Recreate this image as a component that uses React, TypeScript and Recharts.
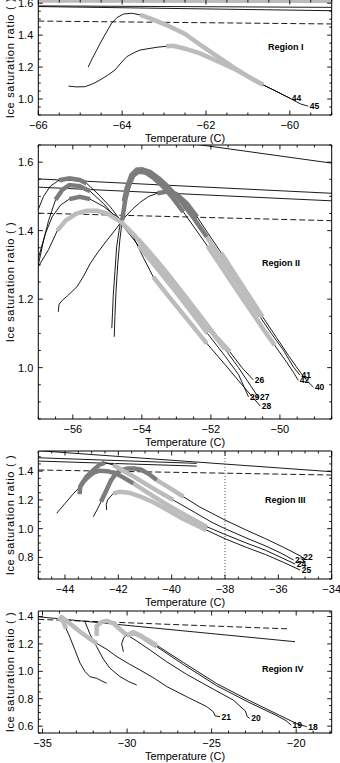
import React from 'react';
import { LineChart, Line, XAxis, YAxis, ReferenceArea } from 'recharts';

type P = [number, number];

// ---------------- Panel I ----------------
const P1_X_TICKS = [-66, -64, -62, -60];
const P1_Y_TICKS = [1.0, 1.2, 1.4, 1.6];
const P1_TOP_A: P[] = [[-66, 1.612], [-59, 1.61]];
const P1_TOP_B: P[] = [[-66, 1.583], [-59, 1.574]];
const P1_TOP_C: P[] = [[-66, 1.579], [-59, 1.553]];
const P1_DASH: P[] = [[-66, 1.488], [-59, 1.47]];
const C44: P[] = [[-64.81, 1.2], [-64.72, 1.25], [-64.6, 1.31], [-64.48, 1.37], [-64.37, 1.42], [-64.25, 1.475], [-64.12, 1.51], [-63.97, 1.532], [-63.77, 1.537], [-63.57, 1.527], [-63.3, 1.502], [-62.94, 1.463], [-62.5, 1.408], [-62.14, 1.34], [-61.75, 1.27], [-61.35, 1.2], [-61.0, 1.142], [-60.63, 1.088], [-60.3, 1.045], [-59.99, 1.004]];
const C45: P[] = [[-65.28, 1.081], [-65.1, 1.076], [-64.89, 1.077], [-64.7, 1.095], [-64.53, 1.119], [-64.35, 1.148], [-64.17, 1.182], [-64.03, 1.225], [-63.89, 1.265], [-63.72, 1.29], [-63.57, 1.307], [-63.17, 1.324], [-62.95, 1.33], [-62.78, 1.333], [-62.5, 1.315], [-62.14, 1.286], [-61.75, 1.24], [-61.35, 1.192], [-61.0, 1.142], [-60.71, 1.098], [-60.35, 1.052], [-60.0, 1.005], [-59.75, 0.97], [-59.56, 0.955]];

// ---------------- Panel II ----------------
const P2_X_TICKS = [-56, -54, -52, -50];
const P2_Y_TICKS = [1.0, 1.2, 1.4, 1.6];
const P2_TOP_A: P[] = [[-57, 1.716], [-48.5, 1.597]];
const P2_TOP_B: P[] = [[-57, 1.551], [-48.5, 1.509]];
const P2_TOP_C: P[] = [[-57, 1.527], [-48.5, 1.487]];
const P2_DASH: P[] = [[-57, 1.451], [-48.5, 1.429]];
const C26: P[] = [[-57, 1.295], [-56.7, 1.345], [-56.45, 1.4], [-56.2, 1.43], [-55.9, 1.45], [-55.6, 1.458], [-55.3, 1.458], [-55.0, 1.45], [-54.6, 1.425], [-54.25, 1.39], [-53.8, 1.34], [-53.3, 1.28], [-52.8, 1.215], [-52.3, 1.15], [-51.85, 1.09], [-51.45, 1.046], [-51.1, 1.0], [-50.77, 0.964]];
const C27: P[] = [[-57, 1.319], [-56.8, 1.39], [-56.6, 1.44], [-56.35, 1.475], [-56.1, 1.492], [-55.8, 1.499], [-55.5, 1.492], [-55.1, 1.47], [-54.6, 1.43], [-54.1, 1.375], [-53.6, 1.313], [-53.1, 1.25], [-52.6, 1.185], [-52.1, 1.12], [-51.6, 1.055], [-51.2, 1.0], [-50.9, 0.955], [-50.62, 0.913]];
const C28: P[] = [[-57, 1.462], [-56.85, 1.5], [-56.65, 1.53], [-56.4, 1.547], [-56.1, 1.553], [-55.8, 1.548], [-55.6, 1.538], [-55.3, 1.51], [-54.92, 1.47], [-54.6, 1.428], [-54.25, 1.382], [-53.95, 1.32], [-53.67, 1.265], [-53.2, 1.205], [-52.7, 1.143], [-52.12, 1.071], [-51.6, 1.01], [-51.1, 0.95], [-50.8, 0.915], [-50.57, 0.888]];
const C29: P[] = [[-57, 1.3], [-56.85, 1.37], [-56.7, 1.43], [-56.5, 1.49], [-56.3, 1.52], [-56.1, 1.533], [-55.8, 1.53], [-55.5, 1.515], [-55.1, 1.478], [-54.6, 1.42], [-54.1, 1.357], [-53.6, 1.295], [-53.1, 1.232], [-52.6, 1.167], [-52.1, 1.1], [-51.6, 1.035], [-51.2, 0.98], [-50.91, 0.915]];
const C40: P[] = [[-56.42, 1.163], [-56.4, 1.185], [-56.3, 1.197], [-56.15, 1.21], [-55.88, 1.236], [-55.7, 1.265], [-55.49, 1.305], [-55.25, 1.34], [-55.0, 1.373], [-54.75, 1.405], [-54.52, 1.436], [-54.25, 1.465], [-54.03, 1.484], [-53.8, 1.5], [-53.55, 1.509], [-53.26, 1.514], [-53.0, 1.507], [-52.7, 1.48], [-52.4, 1.44], [-52.1, 1.395], [-51.7, 1.335], [-51.3, 1.272], [-50.9, 1.21], [-50.5, 1.148], [-50.1, 1.088], [-49.75, 1.035], [-49.4, 0.985], [-49.2, 0.96], [-49.03, 0.943]];
const C41: P[] = [[-54.87, 1.115], [-54.85, 1.16], [-54.83, 1.207], [-54.78, 1.28], [-54.73, 1.353], [-54.66, 1.4], [-54.59, 1.441], [-54.52, 1.485], [-54.44, 1.524], [-54.3, 1.563], [-54.15, 1.578], [-54.0, 1.579], [-53.77, 1.572], [-53.5, 1.552], [-53.29, 1.533], [-53.05, 1.507], [-52.81, 1.479], [-52.5, 1.437], [-52.12, 1.382], [-51.75, 1.325], [-51.35, 1.265], [-50.95, 1.205], [-50.58, 1.149], [-50.25, 1.1], [-49.9, 1.051], [-49.61, 1.002], [-49.42, 0.978]];
const C42: P[] = [[-54.8, 1.09], [-54.78, 1.15], [-54.75, 1.22], [-54.7, 1.3], [-54.64, 1.37], [-54.57, 1.43], [-54.48, 1.49], [-54.38, 1.53], [-54.25, 1.56], [-54.1, 1.572], [-53.9, 1.57], [-53.65, 1.553], [-53.4, 1.53], [-53.1, 1.495], [-52.8, 1.455], [-52.45, 1.405], [-52.1, 1.355], [-51.7, 1.295], [-51.3, 1.235], [-50.9, 1.175], [-50.5, 1.115], [-50.15, 1.065], [-49.8, 1.015], [-49.6, 0.985], [-49.47, 0.963]];

// ---------------- Panel III ----------------
const P3_X_TICKS = [-44, -42, -40, -38, -36, -34];
const P3_Y_TICKS = [0.8, 1.0, 1.2, 1.4];
const P3_TOP_A: P[] = [[-45, 1.542], [-34, 1.396]];
const P3_TOP_B: P[] = [[-45, 1.493], [-39.06, 1.454]];
const P3_TOP_C: P[] = [[-45, 1.47], [-39.06, 1.435]];
const P3_DASH: P[] = [[-45, 1.408], [-34, 1.373]];
const P3_DOT: P[] = [[-38, 0.65], [-38, 1.54]];
const C22: P[] = [[-42.94, 1.083], [-42.8, 1.13], [-42.65, 1.187], [-42.45, 1.265], [-42.27, 1.338], [-42.1, 1.38], [-41.9, 1.408], [-41.64, 1.419], [-41.4, 1.418], [-41.14, 1.41], [-40.85, 1.38], [-40.56, 1.338], [-40.05, 1.28], [-39.56, 1.222], [-38.94, 1.15], [-38.0, 1.06], [-37.2, 0.99], [-36.48, 0.93], [-35.8, 0.87], [-35.12, 0.805]];
const C23: P[] = [[-44.31, 1.107], [-44.0, 1.175], [-43.7, 1.24], [-43.43, 1.292], [-43.2, 1.36], [-42.93, 1.408], [-42.7, 1.445], [-42.5, 1.459], [-42.19, 1.443], [-41.5, 1.37], [-40.7, 1.28], [-39.94, 1.199], [-39.2, 1.12], [-38.5, 1.045], [-38.0, 1.0], [-37.2, 0.935], [-36.48, 0.88], [-35.9, 0.83], [-35.43, 0.782]];
const C24: P[] = [[-43.45, 1.24], [-43.43, 1.29], [-43.31, 1.327], [-43.1, 1.365], [-42.9, 1.392], [-42.69, 1.403], [-42.4, 1.4], [-42.1, 1.385], [-41.8, 1.355], [-41.44, 1.315], [-40.9, 1.25], [-40.3, 1.18], [-39.5, 1.095], [-38.69, 1.014], [-38.0, 0.96], [-37.2, 0.9], [-36.48, 0.85], [-35.9, 0.8], [-35.37, 0.754]];
const C25: P[] = [[-42.44, 1.13], [-42.45, 1.17], [-42.4, 1.2], [-42.19, 1.245], [-41.94, 1.257], [-41.6, 1.25], [-41.2, 1.225], [-40.7, 1.185], [-40.2, 1.135], [-39.6, 1.07], [-38.69, 0.99], [-38.0, 0.93], [-37.2, 0.87], [-36.48, 0.82], [-35.8, 0.765], [-35.18, 0.712]];

// ---------------- Panel IV ----------------
const P4_X_TICKS = [-35, -30, -25, -20];
const P4_Y_TICKS = [0.6, 0.8, 1.0, 1.2, 1.4];
const P4_TOP_A: P[] = [[-35.25, 1.398], [-20.07, 1.216]];
const P4_DASH: P[] = [[-35.25, 1.379], [-20.37, 1.309]];
const CA: P[] = [[-33.87, 1.394], [-33.77, 1.362], [-33.6, 1.31], [-33.37, 1.245], [-33.1, 1.16], [-32.78, 1.06], [-32.5, 1.0], [-32.19, 0.96], [-31.8, 0.949], [-31.5, 0.93], [-31.21, 0.913]];
const CB: P[] = [[-32.49, 1.362], [-32.19, 1.27], [-31.8, 1.18], [-31.41, 1.09], [-31.01, 1.022], [-30.42, 0.961], [-29.9, 0.925], [-29.43, 0.9]];
const C21: P[] = [[-34.06, 1.37], [-33.87, 1.394], [-33.6, 1.37], [-33.2, 1.33], [-32.8, 1.29], [-32.3, 1.245], [-31.8, 1.204], [-31.2, 1.16], [-30.6, 1.107], [-29.9, 1.055], [-29.24, 1.01], [-28.4, 0.95], [-27.66, 0.889], [-26.5, 0.816], [-25.3, 0.743], [-24.9, 0.705], [-24.8, 0.675], [-24.5, 0.669]];
const C20: P[] = [[-31.8, 1.26], [-31.8, 1.33], [-31.5, 1.36], [-31.21, 1.369], [-30.8, 1.35], [-30.4, 1.305], [-30.02, 1.265], [-29.6, 1.235], [-28.65, 1.156], [-27.66, 1.07], [-26.48, 0.978], [-24.9, 0.87], [-23.72, 0.79], [-23.0, 0.71], [-22.9, 0.67], [-22.75, 0.657]];
const C19: P[] = [[-30.22, 1.143], [-30.32, 1.2], [-30.2, 1.245], [-30.02, 1.262], [-29.63, 1.285], [-29.2, 1.26], [-28.7, 1.215], [-28.25, 1.18], [-26.68, 1.05], [-24.7, 0.895], [-22.74, 0.77], [-21.2, 0.68], [-20.6, 0.64], [-20.3, 0.608]];
const C18: P[] = [[-29.9, 1.27], [-29.5, 1.275], [-29.0, 1.245], [-28.25, 1.19], [-26.68, 1.065], [-24.7, 0.91], [-22.74, 0.785], [-21.0, 0.68], [-20.0, 0.62], [-19.38, 0.596]];

// ---------------- layout / style ----------------
const LEFT = 38.3;
const RIGHT = 331.7;
const LIGHT = '#bcbcbc';
const DARK = '#7c7c7c';
const FONT = '"Liberation Sans", Arial, sans-serif';

type Straight = { pts: P[]; dash?: string; color?: string; width?: number };
type Curve = { pts: P[]; label?: string; light?: [number, number][]; dark?: [number, number][] };
type Cfg = {
  top: number; bottom: number; xDomain: [number, number]; yDomain: [number, number];
  xMajor: number[]; xMinorStep: number; yMajor: number[]; straight: Straight[]; curves: Curve[];
  region: string; regionX: number; regionY: number;
};

const range = (a: number, b: number, s: number) => {
  const out: number[] = [];
  const n = Math.floor((b - a) / s + 1e-6);
  for (let i = 0; i <= n; i++) out.push(+(a + i * s).toFixed(4));
  return out;
};

const toData = (pts: P[]) => pts.map(([t, s]) => ({ t, s }));
const fmtX = (v: number) => (v < 0 ? '\u2212' + Math.abs(v) : String(v));
const isIn = (arr: number[], v: number) => arr.some((m) => Math.abs(m - v) < 1e-6);

const PANELS: Cfg[] = [
  {
    top: 0, bottom: 115, xDomain: [-66, -59], yDomain: [0.9, 1.62], xMajor: P1_X_TICKS, xMinorStep: 0.5, yMajor: P1_Y_TICKS,
    straight: [{ pts: P1_TOP_A, color: LIGHT, width: 3 }, { pts: P1_TOP_B }, { pts: P1_TOP_C }, { pts: P1_DASH, dash: '6 3' }],
    curves: [
      { pts: C44, label: '44', light: [[9, 17]] },
      { pts: C45, label: '45', light: [[12, 19]] },
    ],
    region: 'Region I', regionX: 268, regionY: 47,
  },
  {
    top: 145, bottom: 419, xDomain: [-57, -48.5], yDomain: [0.85, 1.65], xMajor: P2_X_TICKS, xMinorStep: 0.5, yMajor: P2_Y_TICKS,
    straight: [{ pts: P2_TOP_A }, { pts: P2_TOP_B }, { pts: P2_TOP_C }, { pts: P2_DASH, dash: '6 3' }],
    curves: [
      { pts: C26, label: '26', light: [[2, 15]] },
      { pts: C27, label: '27', dark: [[4, 6]], light: [[9, 14]] },
      { pts: C28, label: '28', dark: [[3, 6]], light: [[12, 15]] },
      { pts: C29, label: '29', dark: [[3, 7]], light: [[10, 14]] },
      { pts: C40, label: '40', dark: [[14, 18]], light: [[20, 23]] },
      { pts: C41, label: '41', dark: [[7, 18]], light: [[18, 22]] },
      { pts: C42, label: '42', dark: [[5, 14]], light: [[16, 21]] },
    ],
    region: 'Region II', regionX: 262, regionY: 263,
  },
  {
    top: 451, bottom: 579, xDomain: [-45, -34], yDomain: [0.65, 1.54], xMajor: P3_X_TICKS, xMinorStep: 0.5, yMajor: P3_Y_TICKS,
    straight: [{ pts: P3_TOP_A }, { pts: P3_TOP_B }, { pts: P3_TOP_C }, { pts: P3_DASH, dash: '6 3' }, { pts: P3_DOT, dash: '1 2', color: '#444' }],
    curves: [
      { pts: C22, label: '22', dark: [[2, 11]], light: [[11, 13]] },
      { pts: C23, label: '23', dark: [[3, 7]], light: [[8, 11]] },
      { pts: C24, label: '24', dark: [[0, 9]], light: [[9, 13]] },
      { pts: C25, label: '25', light: [[3, 10]] },
    ],
    region: 'Region III', regionX: 265, regionY: 500,
  },
  {
    top: 611, bottom: 733, xDomain: [-35.25, -17.9], yDomain: [0.55, 1.44], xMajor: P4_X_TICKS, xMinorStep: 1, yMajor: P4_Y_TICKS,
    straight: [{ pts: P4_TOP_A }, { pts: P4_DASH, dash: '6 3' }],
    curves: [
      { pts: CA, light: [[0, 2]] },
      { pts: CB },
      { pts: C21, label: '21', light: [[0, 6]] },
      { pts: C20, label: '20', light: [[0, 6]] },
      { pts: C19, label: '19', light: [[3, 7]] },
      { pts: C18, label: '18', light: [[0, 3]] },
    ],
    region: 'Region IV', regionX: 262, regionY: 669,
  },
];

function makeXTick(major: number[], plotH: number) {
  return (props: any) => {
    const { x, y, payload } = props;
    const v = payload.value as number;
    const mj = isIn(major, v);
    const len = mj ? 4.5 : 2.5;
    return (
      <g>
        <line x1={x} x2={x} y1={y} y2={y - len} stroke="#000" strokeWidth={0.9} />
        <line x1={x} x2={x} y1={y - plotH} y2={y - plotH + len} stroke="#000" strokeWidth={0.9} />
        {mj ? (
          <text x={x} y={y + 14} textAnchor="middle" fontSize={11} fill="#000" fontFamily={FONT}>{fmtX(v)}</text>
        ) : null}
      </g>
    );
  };
}

function makeYTick(major: number[], plotW: number) {
  return (props: any) => {
    const { x, y, payload } = props;
    const v = payload.value as number;
    const mj = isIn(major, v);
    const len = mj ? 4.5 : 2.5;
    return (
      <g>
        <line x1={x} x2={x + len} y1={y} y2={y} stroke="#000" strokeWidth={0.9} />
        <line x1={x + plotW} x2={x + plotW - len} y1={y} y2={y} stroke="#000" strokeWidth={0.9} />
        {mj ? (
          <text x={x - 5} y={y + 4} textAnchor="end" fontSize={11} fill="#000" fontFamily={FONT}>{v.toFixed(1)}</text>
        ) : null}
      </g>
    );
  };
}

const endLabel = (text: string, n: number) => (props: any) => {
  const x = props.x ?? props.viewBox?.x;
  const y = props.y ?? props.viewBox?.y;
  if (props.index !== n - 1) return <g key={`e${props.index}`} />;
  return (
    <text key={`e${props.index}`} x={x + 1.5} y={y + 3} fontSize={8.5} fontWeight="bold" fill="#000" fontFamily={FONT}>{text}</text>
  );
};

function Panel({ cfg }: { cfg: Cfg }) {
  const plotH = cfg.bottom - cfg.top;
  const plotW = RIGHT - LEFT;
  const mt = cfg.top === 0 ? 0 : 4;
  const mb = 20;
  const H = mt + plotH + mb;
  const xTicks = range(Math.ceil(cfg.xDomain[0] / cfg.xMinorStep - 1e-6) * cfg.xMinorStep, cfg.xDomain[1], cfg.xMinorStep);
  const yTicks = range(Math.ceil(cfg.yDomain[0] / 0.05 - 1e-6) * 0.05, cfg.yDomain[1], 0.05);
  const lines: React.ReactNode[] = [];
  cfg.straight.forEach((s, i) => {
    lines.push(
      <Line key={`s${i}`} data={toData(s.pts)} dataKey="s" type="linear" stroke={s.color || '#000'} strokeWidth={s.width || 0.9}
        strokeDasharray={s.dash} dot={false} activeDot={false} isAnimationActive={false} />
    );
  });
  cfg.curves.forEach((c, i) => {
    lines.push(
      <Line key={`c${i}`} data={toData(c.pts)} dataKey="s" type="linear" stroke="#000" strokeWidth={0.9}
        dot={false} activeDot={false} isAnimationActive={false}
        label={c.label ? endLabel(c.label, c.pts.length) : false} />
    );
  });
  cfg.curves.forEach((c, i) => {
    (c.light || []).forEach(([a, b], j) => {
      lines.push(
        <Line key={`l${i}-${j}`} data={toData(c.pts.slice(a, b + 1))} dataKey="s" type="linear" stroke={LIGHT} strokeWidth={4.5}
          dot={false} activeDot={false} isAnimationActive={false} />
      );
    });
    (c.dark || []).forEach(([a, b], j) => {
      lines.push(
        <Line key={`d${i}-${j}`} data={toData(c.pts.slice(a, b + 1))} dataKey="s" type="linear" stroke={DARK} strokeWidth={4.5}
          dot={false} activeDot={false} isAnimationActive={false} />
      );
    });
  });

  return (
    <>
      <div style={{ position: 'absolute', left: 0, top: cfg.top - mt }}>
        <LineChart width={340} height={H} margin={{ top: mt, right: 340 - RIGHT, bottom: mb - 1, left: LEFT - 1 }}>
          <XAxis type="number" dataKey="t" domain={cfg.xDomain} allowDataOverflow ticks={xTicks} interval={0}
            tickSize={0} tickMargin={0} height={1} axisLine={false} tickLine={false} tick={makeXTick(cfg.xMajor, plotH)} />
          <YAxis type="number" dataKey="s" domain={cfg.yDomain} allowDataOverflow ticks={yTicks} interval={0}
            tickSize={0} tickMargin={0} width={1} axisLine={false} tickLine={false} tick={makeYTick(cfg.yMajor, plotW)} />
          <ReferenceArea x1={cfg.xDomain[0]} x2={cfg.xDomain[1]} y1={cfg.yDomain[0]} y2={cfg.yDomain[1]}
            fill="none" fillOpacity={0} stroke="#000" strokeWidth={1} />
          {lines}
        </LineChart>
      </div>
      <div style={{
        position: 'absolute', left: 10, top: (cfg.top + cfg.bottom) / 2, transform: 'translate(-50%, -50%) rotate(-90deg)',
        whiteSpace: 'nowrap', fontSize: 11, letterSpacing: 0.7, fontFamily: FONT, lineHeight: '12px', color: '#000',
      }}>Ice saturation ratio ( )</div>
      <div style={{
        position: 'absolute', left: (LEFT + RIGHT) / 2, top: cfg.bottom + 23, transform: 'translate(-50%, -50%)',
        whiteSpace: 'nowrap', fontSize: 11, fontFamily: FONT, lineHeight: '12px', color: '#000',
      }}>Temperature (C)</div>
      <div style={{
        position: 'absolute', left: cfg.regionX, top: cfg.regionY, transform: 'translate(0, -50%)',
        whiteSpace: 'nowrap', fontSize: 9, fontWeight: 'bold', fontFamily: FONT, lineHeight: '10px', color: '#000',
      }}>{cfg.region}</div>
    </>
  );
}

export default function App() {
  return (
    <div style={{ position: 'absolute', left: 0, top: 0, width: 340, height: 763, overflow: 'hidden', background: '#fff', fontFamily: FONT }}>
      {PANELS.map((p, i) => (
        <Panel key={i} cfg={p} />
      ))}
    </div>
  );
}
